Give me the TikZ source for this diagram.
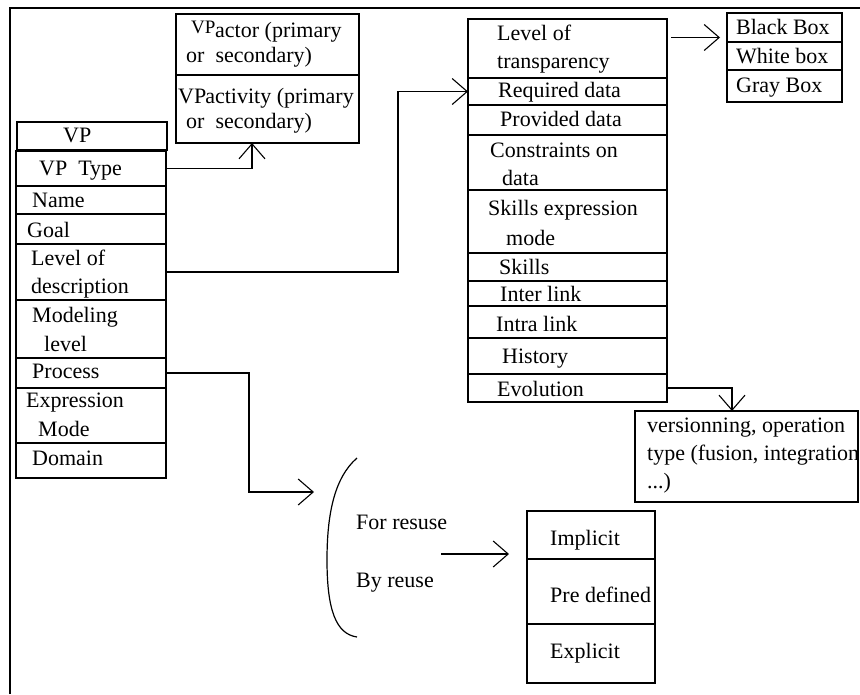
\documentclass[tikz,border=0pt]{standalone}
\usepackage{fontspec}
\setmainfont{Liberation Serif}
\usetikzlibrary{arrows.meta}
\begin{document}
\begin{tikzpicture}[x=1pt,y=-1pt,
  box/.style={draw, line width=1.2pt, inner sep=0pt, outer sep=0pt, anchor=north west},
  lbl/.style={anchor=base west, inner sep=0pt, font=\fontsize{22}{26}\selectfont},
  conn/.style={line width=1.2pt},
  arr/.style={conn, -{Straight Barb[length=15pt,width=26pt,line width=1.1pt]}}]
\useasboundingbox (0,0) rectangle (860,694);
% frame
\draw[line width=1.5pt] (10,694) -- (10,8) -- (860,8);

% VP class
\node[box, minimum width=150pt, minimum height=28pt] (vphead) at (17,122) {};
\node[box, minimum width=150pt, minimum height=35pt] (vptype) at (16,151) {};
\node[box, minimum width=150pt, minimum height=28pt] (name) at (16,186) {};
\node[box, minimum width=150pt, minimum height=30pt] (goal) at (16,214) {};
\node[box, minimum width=150pt, minimum height=56pt] (lod) at (16,244) {};
\node[box, minimum width=150pt, minimum height=58pt] (model) at (16,300) {};
\node[box, minimum width=150pt, minimum height=30pt] (proc) at (16,358) {};
\node[box, minimum width=150pt, minimum height=55pt] (expr) at (16,388) {};
\node[box, minimum width=150pt, minimum height=35pt] (dom) at (16,443) {};
\node[lbl] (t1) at (63,142) {VP};
\node[lbl] (t2) at (39,175) {VP\ \ Type};
\node[lbl] (t3) at (32,207) {Name};
\node[lbl] (t4) at (27,237) {Goal};
\node[lbl] (t5) at (31,265) {Level of};
\node[lbl] (t6) at (31,293) {description};
\node[lbl] (t7) at (32,322) {Modeling};
\node[lbl] (t8) at (44,351) {level};
\node[lbl] (t9) at (32,378) {Process};
\node[lbl] (t10) at (26,407) {Expression};
\node[lbl] (t11) at (38,436) {Mode};
\node[lbl] (t12) at (32,465) {Domain};

% actor / activity
\node[box, minimum width=183pt, minimum height=61pt] (actor) at (176,14) {};
\node[box, minimum width=183pt, minimum height=68pt] (activity) at (176,75) {};
\node[lbl, font=\fontsize{19}{22}\selectfont] (t13a) at (191,33) {VP};
\node[lbl] (t13) at (215,37) {actor (primary};
\node[lbl] (t14) at (186,62) {or\ \ secondary)};
\node[lbl] (t15) at (178,103) {VP\hspace{-1pt}activity (primary};
\node[lbl] (t16) at (186,128) {or\ \ secondary)};

% right list
\node[box, minimum width=199pt, minimum height=59pt] (lot) at (468,19) {};
\node[box, minimum width=199pt, minimum height=27pt] (req) at (468,78) {};
\node[box, minimum width=199pt, minimum height=30pt] (prov) at (468,105) {};
\node[box, minimum width=199pt, minimum height=55pt] (cons) at (468,135) {};
\node[box, minimum width=199pt, minimum height=63pt] (sem) at (468,190) {};
\node[box, minimum width=199pt, minimum height=28pt] (skills) at (468,253) {};
\node[box, minimum width=199pt, minimum height=25pt] (inter) at (468,281) {};
\node[box, minimum width=199pt, minimum height=32pt] (intra) at (468,306) {};
\node[box, minimum width=199pt, minimum height=36pt] (hist) at (468,338) {};
\node[box, minimum width=199pt, minimum height=28pt] (evo) at (468,374) {};
\node[lbl] (t17) at (497,40) {Level of};
\node[lbl] (t18) at (497,68) {transparency};
\node[lbl] (t19) at (498,97) {Required data};
\node[lbl] (t20) at (500,126) {Provided data};
\node[lbl] (t21) at (490,157) {Constraints on};
\node[lbl] (t22) at (502,185) {data};
\node[lbl] (t23) at (488,215) {Skills expression};
\node[lbl] (t24) at (506,245) {mode};
\node[lbl] (t25) at (499,274) {Skills};
\node[lbl] (t26) at (500,301) {Inter link};
\node[lbl] (t27) at (496,331) {Intra link};
\node[lbl] (t28) at (502,363) {History};
\node[lbl] (t29) at (497,396) {Evolution};

% box kinds
\node[box, minimum width=115pt, minimum height=29pt] (black) at (727,13) {};
\node[box, minimum width=115pt, minimum height=28pt] (white) at (727,42) {};
\node[box, minimum width=115pt, minimum height=32pt] (gray) at (727,70) {};
\node[lbl] (t30) at (736,34) {Black Box};
\node[lbl] (t31) at (736,63) {White box};
\node[lbl] (t32) at (736,92) {Gray Box};

% versioning
\node[box, minimum width=223pt, minimum height=91pt] (ver) at (635,411) {};
\node[lbl] (t33) at (647,432) {versionning, operation};
\node[lbl] (t34) at (647,460) {type (fusion, integration};
\node[lbl] (t35) at (647,488) {...)};

% reuse
\draw[conn] (357,458) .. controls (334,478) and (327,515) .. (327,560)
  .. controls (327,610) and (336,634) .. (357,637);
\node[lbl] (t36) at (356,529) {For resuse};
\node[lbl] (t37) at (356,587) {By reuse};
\node[box, minimum width=128pt, minimum height=48pt] (impl) at (527,511) {};
\node[box, minimum width=128pt, minimum height=65pt] (pre) at (527,559) {};
\node[box, minimum width=128pt, minimum height=59pt] (expl) at (527,624) {};
\node[lbl] (t38) at (550,545) {Implicit};
\node[lbl] (t39) at (550,602) {Pre defined};
\node[lbl] (t40) at (550,658) {Explicit};

% connectors
\coordinate (c1) at (398,0);
\coordinate (bend) at (249,492);
\coordinate (partip) at (314,492);
\coordinate (rstart) at (441,554);
\draw[arr] (vptype.east) -| ([shift={(-15.5,0)}]activity.south);
\draw[arr] (lod.east) -- (lod.east -| c1) |- (req.west);
\draw[arr] ([shift={(4,-11)}]lot.east) -- ([shift={(-7,10)}]black.west);
\draw[arr] (evo.east) -| ([shift={(-14.5,0)}]ver.north);
\draw[arr] (proc.east) -| (bend) -- (partip);
\draw[arr] (rstart) -- ([shift={(-18,-5)}]pre.north west);
\end{tikzpicture}
\end{document}
